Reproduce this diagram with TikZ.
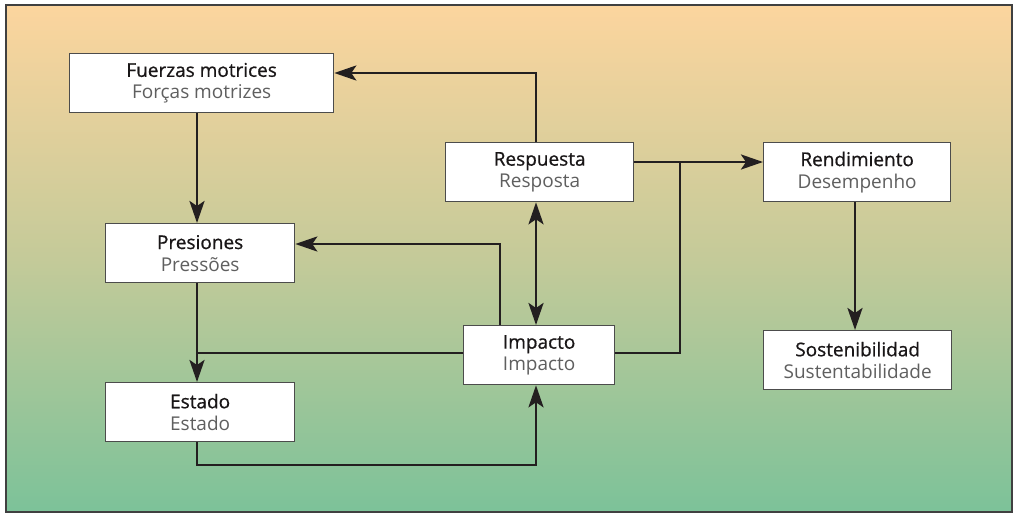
\documentclass[tikz,border=0pt]{standalone}
\usepackage{fontspec}
\setmainfont{Open Sans}
\usetikzlibrary{arrows.meta}
\definecolor{bgtop}{RGB}{252,213,158}
\definecolor{bgmid}{RGB}{196,202,153}
\definecolor{bgbot}{RGB}{124,194,153}
\definecolor{txtdark}{RGB}{25,22,23}
\definecolor{txtgray}{RGB}{95,95,95}
\definecolor{linec}{RGB}{35,31,32}
\tikzset{
  pbox/.style={draw=black!70, line width=1.3pt, fill=white, inner sep=0pt, anchor=north west},
  ptext/.style={align=center, inner sep=0pt, font=\fontsize{19}{22}\selectfont, text=txtdark},
  conn/.style={draw=linec, line width=2.8pt},
  arr/.style={conn, -{Stealth[length=22pt,width=15pt,inset=5pt]}},
  darr/.style={conn, {Stealth[length=22pt,width=15pt,inset=5pt]}-{Stealth[length=22pt,width=15pt,inset=5pt]}},
}
\newcommand{\boxtext}[2]{{\addfontfeatures{FakeBold=0.7}#1}\\\textcolor{txtgray}{#2}}
\begin{document}
\begin{tikzpicture}[x=1pt,y=-1pt]
\useasboundingbox (0,0) rectangle (1014,514);
\shade[top color=bgtop, bottom color=bgbot, middle color=bgmid] (6,5) rectangle (1012,512);
\draw[black!75, line width=1.2pt] (6,5) rectangle (1012,512);
% boxes
\node[pbox, minimum width=264pt, minimum height=59pt] (fm) at (69,53) {};
\node[ptext] (fmt) at (fm.center) {\boxtext{Fuerzas motrices}{Forças motrizes}};
\node[pbox, minimum width=188pt, minimum height=59pt] (re) at (445,142) {};
\node[ptext] (ret) at (re.center) {\boxtext{Respuesta}{Resposta}};
\node[pbox, minimum width=187pt, minimum height=59pt] (rd) at (763,142) {};
\node[ptext] (rdt) at (rd.center) {\boxtext{Rendimiento}{Desempenho}};
\node[pbox, minimum width=189pt, minimum height=59pt] (pr) at (105,223) {};
\node[ptext] (prt) at (pr.center) {\boxtext{Presiones}{Pressões}};
\node[pbox, minimum width=151pt, minimum height=59pt] (im) at (463,325) {};
\node[ptext] (imt) at (im.center) {\boxtext{Impacto}{Impacto}};
\node[pbox, minimum width=189pt, minimum height=59pt] (es) at (105,382) {};
\node[ptext] (est) at (es.center) {\boxtext{Estado}{Estado}};
\node[pbox, minimum width=188pt, minimum height=59pt] (so) at (763,330) {};
\node[ptext] (sot) at (so.center) {\boxtext{Sostenibilidad}{Sustentabilidade}};
% coordinates
\coordinate (c1) at (536,73);
\coordinate (c2) at (500,244);
\coordinate (c3) at (197,353);
\coordinate (c4) at (197,465);
\coordinate (c5) at (536,465);
\coordinate (c6) at (680,353);
\coordinate (c7) at (680,162);
\coordinate (c8) at (855,162);
% connectors
\draw[arr, line join=miter] (re.north -| c1) -- (c1) -- (c1 -| fm.east);
\draw[arr] (fm.south -| c3) -- (pr.north -| c3);
\draw[arr] (pr.south -| c3) -- (es.north -| c3);
\draw[conn] (im.west |- c3) -- (c3);
\draw[arr, line join=miter] (es.south -| c4) -- (c4) -- (c5) -- (im.south -| c5);
\draw[arr, line join=miter] (im.north -| c2) -- (c2) -- (c2 -| pr.east);
\draw[darr] (re.south -| c1) -- (im.north -| c1);
\draw[arr] (re.east |- c7) -- (rd.west |- c7);
\draw[conn, line join=miter] (im.east |- c6) -- (c6) -- (c7);
\draw[arr] (rd.south -| c8) -- (so.north -| c8);
\end{tikzpicture}
\end{document}
